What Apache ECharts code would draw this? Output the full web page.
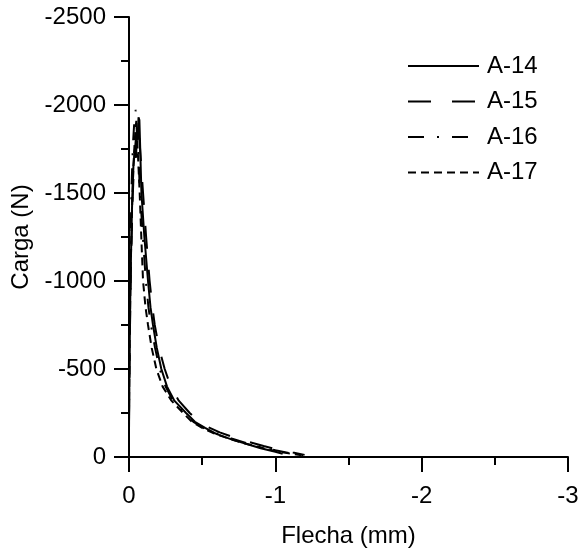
<!DOCTYPE html>
<html style="height: 100%">
<head>
    <meta charset="utf-8">
    <title>Carga - Flecha</title>
    <script src="https://cdn.jsdelivr.net/npm/echarts@6/dist/echarts.min.js"></script>
</head>
<body style="height: 100%; margin: 0">
    <div id="main" style="width: 581px; height: 553px"></div>
    <script>
        // datos: [flecha (mm), carga (N)]
        var nombres = ['A-14', 'A-15', 'A-16', 'A-17'];

        var a14 = [[0,-140],[-0.003,-500],[-0.01,-1000],[-0.02,-1400],[-0.03,-1650],[-0.04,-1750],
            [-0.048,-1700],[-0.055,-1850],[-0.06,-1800],[-0.065,-1930],[-0.071,-1915],[-0.075,-1800],
            [-0.085,-1500],[-0.105,-1250],[-0.13,-1000],[-0.147,-850],[-0.164,-750],[-0.19,-620],
            [-0.221,-500],[-0.26,-400],[-0.31,-320],[-0.39,-250],[-0.45,-200],[-0.52,-165],
            [-0.6,-130],[-0.7,-100],[-0.8,-75],[-0.9,-50],[-1.0,-30],[-1.05,-18]];

        var a15 = [[0,-200],[-0.006,-700],[-0.014,-1100],[-0.024,-1450],[-0.035,-1680],[-0.048,-1820],
            [-0.06,-1880],[-0.07,-1820],[-0.08,-1700],[-0.096,-1500],[-0.117,-1250],[-0.141,-1000],
            [-0.16,-850],[-0.176,-750],[-0.205,-620],[-0.244,-500],[-0.285,-400],[-0.34,-320],
            [-0.415,-250],[-0.48,-200],[-0.54,-170],[-0.62,-140],[-0.72,-110],[-0.82,-85],
            [-0.92,-62],[-1.02,-42],[-1.12,-25],[-1.2,-12]];

        var a16 = [[0,-300],[-0.004,-800],[-0.01,-1200],[-0.018,-1550],[-0.027,-1780],[-0.036,-1900],
            [-0.046,-1973],[-0.053,-1880],[-0.06,-1800],[-0.075,-1500],[-0.095,-1250],[-0.115,-1000],
            [-0.133,-850],[-0.15,-750],[-0.178,-620],[-0.21,-500],[-0.25,-400],[-0.3,-320],
            [-0.38,-250],[-0.44,-200],[-0.51,-165],[-0.6,-135],[-0.7,-105],[-0.8,-80],
            [-0.9,-58],[-1.0,-38],[-1.1,-22],[-1.19,-10]];

        var a17 = [[0,-250],[-0.005,-700],[-0.012,-1100],[-0.022,-1450],[-0.03,-1650],[-0.038,-1780],
            [-0.044,-1860],[-0.05,-1910],[-0.062,-1700],[-0.073,-1500],[-0.084,-1250],[-0.096,-1000],
            [-0.113,-850],[-0.13,-750],[-0.155,-620],[-0.187,-500],[-0.23,-400],[-0.29,-320],
            [-0.37,-250],[-0.43,-200],[-0.5,-165],[-0.58,-135],[-0.68,-105],[-0.78,-80],
            [-0.88,-58],[-0.98,-38],[-1.08,-22],[-1.18,-10]];

        var datos = [a14, a15, a16, a17];
        var trazos = ['solid', [23, 21], [16, 13, 2, 13], [8, 5]];

        var fuente = 'Liberation Sans, Arial, sans-serif';
        var myChart = echarts.init(document.getElementById('main'));

        function eje(nombre, min, intervalo, gap, margen) {
            return {
                type: 'value',
                min: min,
                max: 0,
                interval: intervalo,
                inverse: true,
                name: nombre,
                nameLocation: 'middle',
                nameGap: gap,
                nameTextStyle: { fontSize: 24, color: '#000', fontFamily: fuente },
                axisLine: { lineStyle: { color: '#000', width: 2 } },
                axisTick: { length: 15, lineStyle: { color: '#000', width: 2 } },
                minorTick: { show: true, splitNumber: 2, length: 8, lineStyle: { color: '#000', width: 2 } },
                splitLine: { show: false },
                minorSplitLine: { show: false },
                axisLabel: {
                    fontSize: 24, color: '#000', fontFamily: fuente, margin: margen,
                    formatter: function (v) { return String(v); }
                }
            };
        }

        myChart.setOption({
            animation: false,
            grid: { left: 129, right: 13, top: 17, bottom: 96, outerBoundsMode: 'none', containLabel: false },
            xAxis: eje('Flecha (mm)', -3, 1, 67, 27),
            yAxis: eje('Carga (N)', -2500, 500, 90, 23),
            legend: {
                orient: 'vertical',
                left: 402,
                top: 49,
                itemWidth: 71,
                itemHeight: 14,
                itemGap: 11.5,
                itemStyle: { color: 'transparent', borderWidth: 0, opacity: 0 },
                textStyle: { fontSize: 24, color: '#000', fontFamily: fuente, padding: [0, 0, 0, 3] },
                data: nombres
            },
            series: nombres.map(function (n, i) {
                return {
                    name: n,
                    type: 'line',
                    symbol: 'none',
                    data: datos[i],
                    lineStyle: { color: '#000', width: 2, type: trazos[i] },
                    itemStyle: { color: '#000' }
                };
            })
        });
    </script>
</body>
</html>
